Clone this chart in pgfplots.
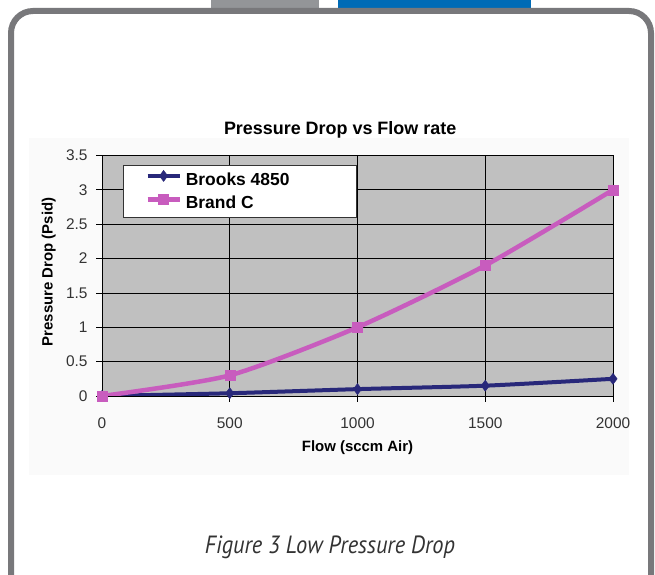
\documentclass[border=0pt]{standalone}
\usepackage{pgfplots}
\pgfplotsset{compat=1.18}
\usepackage{fontspec}
\setmainfont{Liberation Sans}
\newfontfamily\capfont[FakeStretch=0.9]{PT Sans}

\definecolor{framegrey}{RGB}{120,120,123}
\definecolor{tabgrey}{RGB}{147,149,152}
\definecolor{tabblue}{RGB}{0,107,182}
\definecolor{plotgrey}{RGB}{192,192,192}
\definecolor{brooks}{RGB}{40,40,122}
\definecolor{brandc}{RGB}{200,92,190}

\begin{document}
\begin{tikzpicture}[x=1bp,y=1bp]
\useasboundingbox (0,0) rectangle (655,575);
\clip (0,0) rectangle (655,575);

% page furniture
\fill[tabgrey] (211,565) rectangle (319,575);
\fill[tabblue] (338,565) rectangle (531,575);
\fill[white] (11,-40) rectangle (651,564);
\fill[black!2] (29,100) rectangle (629,437);
\draw[framegrey, line width=6bp, rounded corners=22bp] (11,-40) rectangle (651,564);

\begin{axis}[
  at={(102bp,179bp)}, anchor=south west,
  width=511bp, height=240.5bp, scale only axis,
  xmin=0, xmax=2000, ymin=0, ymax=3.5,
  xtick={0,500,1000,1500,2000},
  ytick={0,0.5,1,1.5,2,2.5,3,3.5},
  scaled ticks=false,
  /pgf/number format/.cd, 1000 sep={}, assume math mode=true, /pgfplots/.cd,
  axis lines=left,
  axis line style={-, black, line width=0.8bp},
  axis background/.style={fill=plotgrey, draw=black!45, line width=0.8bp},
  grid=major,
  major grid style={black, line width=0.75bp},
  tick align=outside,
  major tick length=6bp,
  tick style={black, line width=0.75bp},
  tick label style={font=\fontsize{15.5}{17}\selectfont, text=black!80},
  xticklabel style={yshift=-12bp},
  yticklabel style={xshift=-5bp},
  title={Pressure Drop vs Flow rate},
  title style={font=\bfseries\fontsize{18}{20}\selectfont,
    at={(axis description cs:0.466,1.082)}, anchor=center},
  xlabel={Flow (sccm Air)},
  xlabel style={font=\bfseries\fontsize{15}{17}\selectfont,
    at={(axis description cs:0.5,-0.214)}, anchor=center},
  ylabel={Pressure Drop (Psid)},
  ylabel style={font=\bfseries\fontsize{15}{17}\selectfont,
    at={(axis description cs:-0.104,0.5156)}, anchor=center, rotate=0},
  legend style={at={(axis description cs:0.041,0.9605)}, anchor=north west,
    draw=black!80, line width=0.8bp, fill=white,
    font=\bfseries\fontsize{17.5}{20}\selectfont,
    inner xsep=22bp, inner ysep=5bp,
    nodes={inner sep=0pt, text height=13bp, text depth=4bp},
    row sep=5bp,
    /tikz/every odd column/.append style={column sep=4bp}},
  legend cell align=left,
  legend image code/.code={
    \draw[mark repeat=2, mark phase=2]
      plot coordinates {(0bp,5bp) (16bp,5bp) (32bp,5bp)};},
]
\addplot[brooks, line width=4bp, smooth, tension=0.4,
  mark=diamond*, mark size=5.5bp, mark options={solid, line width=0.5bp}]
  coordinates {(0,0) (500,0.04) (1000,0.1) (1500,0.15) (2000,0.25)};
\addlegendentry{\makebox[149bp][l]{Brooks 4850}}
\addplot[brandc, line width=4.5bp, smooth, tension=0.4,
  mark=square*, mark size=5bp, mark options={solid, line width=0.5bp}]
  coordinates {(0,0) (500,0.3) (1000,1.0) (1500,1.9) (2000,3.0)};
\addlegendentry{\makebox[149bp][l]{Brand C}}
\end{axis}

\node[font=\capfont\itshape\fontsize{25}{28}\selectfont, text=black!80]
  at (330,28) {Figure 3 Low Pressure Drop};
\end{tikzpicture}
\end{document}
